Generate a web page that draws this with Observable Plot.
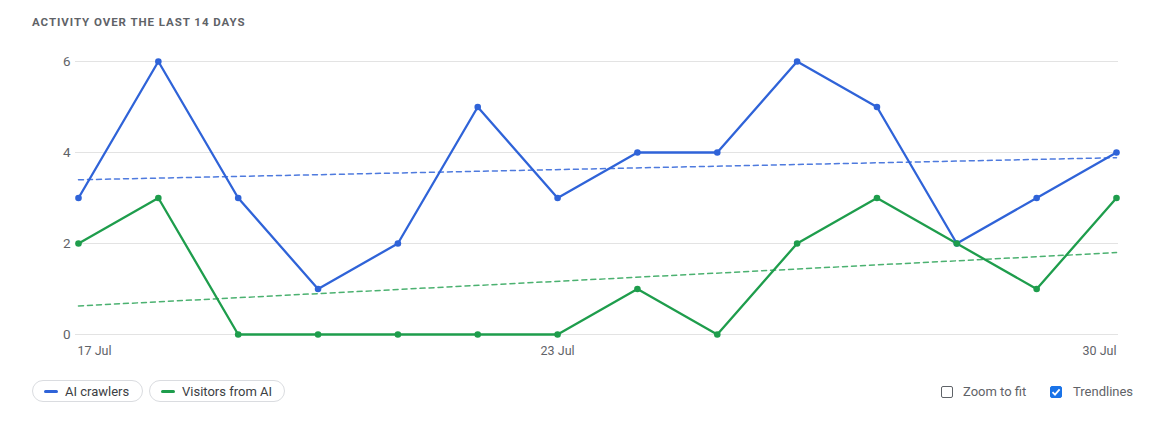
<!DOCTYPE html>
<html>
<head>
<meta charset="utf-8">
<script src="https://cdn.jsdelivr.net/npm/d3@7"></script>
<script src="https://cdn.jsdelivr.net/npm/@observablehq/plot@0.6"></script>
<style>
  html, body { margin: 0; padding: 0; background: #fff; font-family: Roboto, "Noto Sans", sans-serif; }
  #wrap { position: relative; width: 1155px; height: 427px; }
  #title { position: absolute; left: 32px; top: 15px; font-size: 11.5px; font-weight: 700; letter-spacing: 0.95px; color: #5f6368; }
  #chart { position: absolute; left: 0; top: 45px; }
  .pill { position: absolute; top: 380px; height: 22px; border: 1px solid #dadce0; border-radius: 12px; box-sizing: border-box; display: flex; align-items: center; font-size: 13px; color: #3c4043; }
  .sw { width: 14px; height: 3px; border-radius: 2px; margin-left: 11px; margin-right: 7px; }
  .ctl { position: absolute; top: 384px; font-size: 13px; color: #5f6368; display: flex; align-items: center; }
  .box { width: 12px; height: 12px; border: 1.3px solid #5f6368; border-radius: 2px; margin-right: 10px; box-sizing: border-box; }
  .box.on { background: #1a73e8; border-color: #1a73e8; position: relative; }
</style>
</head>
<body>
<div id="wrap">
  <div id="title">ACTIVITY OVER THE LAST 14 DAYS</div>
  <div id="chart"></div>
  <div class="pill" style="left:32px;width:111px;"><span class="sw" style="background:#2f63d8"></span>AI crawlers</div>
  <div class="pill" style="left:149px;width:136px;"><span class="sw" style="background:#1e9d4c"></span>Visitors from AI</div>
  <div class="ctl" style="left:941px;"><span class="box"></span>Zoom to fit</div>
  <div class="ctl" style="left:1050px;"><span class="box on"><svg width="12" height="12" viewBox="0 0 12 12" style="position:absolute;left:-1px;top:-1px"><path d="M2.5 6.2 L5 8.6 L9.6 3.4" stroke="#fff" stroke-width="1.8" fill="none"/></svg></span><span style="margin-left:1px">Trendlines</span></div>
</div>
<script>
const dates = ["2025-07-17","2025-07-18","2025-07-19","2025-07-20","2025-07-21","2025-07-22","2025-07-23","2025-07-24","2025-07-25","2025-07-26","2025-07-27","2025-07-28","2025-07-29","2025-07-30"];
const aiCrawlers = [3,6,3,1,2,5,3,4,4,6,5,2,3,4];
const visitorsFromAI = [2,3,0,0,0,0,0,1,0,2,3,2,1,3];
const yTicks = [0,2,4,6];
const xTickLabels = [["2025-07-17","17 Jul","start"],["2025-07-23","23 Jul","middle"],["2025-07-30","30 Jul","end"]];
const seriesNames = ["AI crawlers","Visitors from AI"];
const seriesColors = ["#2f63d8","#1e9d4c"];

const parse = d3.utcParse("%Y-%m-%d");
const crawl = dates.map((d,i) => ({date: parse(d), i, value: aiCrawlers[i], series: seriesNames[0]}));
const visit = dates.map((d,i) => ({date: parse(d), i, value: visitorsFromAI[i], series: seriesNames[1]}));

const axisMarks = xTickLabels.map(([d, label, anchor]) =>
  Plot.axisX({ticks: [parse(d)], tickFormat: () => label, textAnchor: anchor, tickSize: 0, tickPadding: 12,
    fontSize: 12.5, fill: "#5f6368", dx: anchor === "start" ? -1 : 0}));

const plot = Plot.plot({
  width: 1155,
  height: 325,
  marginLeft: 78,
  marginRight: 39,
  marginTop: 16,
  marginBottom: 36,
  style: {fontFamily: "Roboto, sans-serif", fontSize: "13px", color: "#5f6368", background: "transparent"},
  x: {type: "utc", domain: [parse(dates[0]), parse(dates[dates.length-1])]},
  y: {domain: [0, 6]},
  marks: [
    Plot.gridY(yTicks, {stroke: "#e3e3e3", strokeOpacity: 1, strokeWidth: 1.2, insetLeft: -3, insetRight: -2}),
    Plot.axisY({ticks: yTicks, tickFormat: d3.format("d"), tickSize: 0, tickPadding: 8, fontSize: 13.5, fill: "#5f6368", label: null}),
    ...axisMarks,
    Plot.linearRegressionY(crawl, {x: "date", y: "value", stroke: seriesColors[0], ci: 0, strokeWidth: 1.5, strokeDasharray: "5,4", strokeOpacity: 0.85}),
    Plot.linearRegressionY(visit, {x: "date", y: "value", stroke: seriesColors[1], ci: 0, strokeWidth: 1.5, strokeDasharray: "5,4", strokeOpacity: 0.8}),
    Plot.lineY(crawl, {x: "date", y: "value", stroke: seriesColors[0], strokeWidth: 2.3}),
    Plot.lineY(visit, {x: "date", y: "value", stroke: seriesColors[1], strokeWidth: 2.3}),
    Plot.dot(crawl, {x: "date", y: "value", fill: seriesColors[0], r: 3.3}),
    Plot.dot(visit, {x: "date", y: "value", fill: seriesColors[1], r: 3.3})
  ]
});
document.getElementById("chart").appendChild(plot);
</script>
</body>
</html>
